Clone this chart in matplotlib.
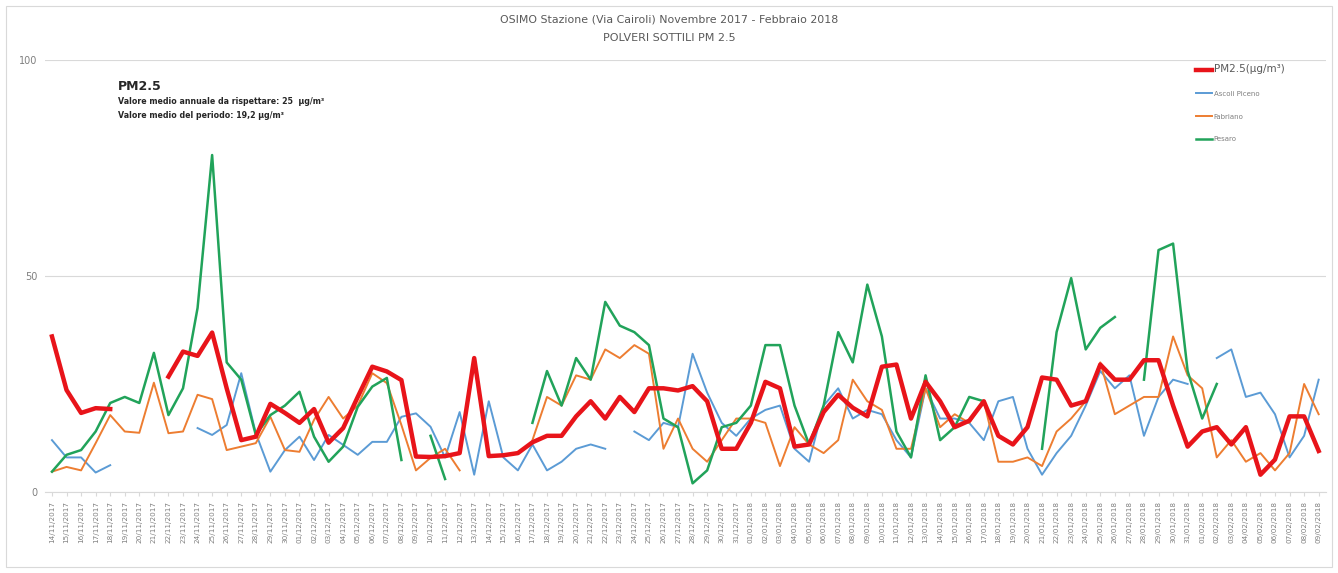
import numpy as np
import pandas as pd
import matplotlib
matplotlib.use("Agg")
import matplotlib.pyplot as plt

nan = np.nan
dates = pd.date_range("2017-11-14", periods=88, freq="D")
tick_labels = [d.strftime("%d/%m/%Y") for d in dates]

pm25 = [36, 23.6, 18.3, 19.4, 19.2, nan, nan, nan, 26.7, 32.5, 31.5, 36.9, 24, 12, 12.8, 20.4, 18.3, 16, 19.2, 11.4,
        14.8, 22, 29, 27.9, 25.9, 8.2, 8.1, 8.3, 9, 31, 8.3, 8.5, 9, 11.5, 13, 13, 17.5, 21, 17, 22,
        18.5, 24, 24, 23.5, 24.5, 21, 10, 10, 16, 25.5, 24, 10.5, 11, 18.5, 22.5, 19.5, 17.5, 29, 29.5, 17,
        25.5, 21, 15, 16.5, 21, 13, 11, 15, 26.5, 26, 20, 21, 29.5, 26, 26, 30.5, 30.5, 20, 10.5, 14,
        15, 11, 15, 4, 7.5, 17.5, 17.5, 9.5]
ascoli = [12, 8, 8, 4.5, 6.2, nan, nan, nan, nan, nan, 14.8, 13.2, 15.5, 27.5, 13.6, 4.7, 9.7, 12.8, 7.4, 13.2,
          10.9, 8.6, 11.6, 11.6, 17.4, 18.2, 15.1, 8, 18.5, 4, 21, 8, 5, 11, 5, 7, 10, 11, 10, nan,
          14, 12, 16, 15, 32, 23, 16, 13, 17, 19, 20, 10, 7, 20, 24, 17, 19, 18, 12, 8,
          24, 17, 17, 16, 12, 21, 22, 10, 4, 9, 13, 20, 28, 24, 27, 13, 22, 26, 25, nan,
          31, 33, 22, 23, 18, 8, 13, 26]
fabriano = [4.7, 5.8, 5, 11.3, 17.8, 14, 13.7, 25.3, 13.6, 14, 22.5, 21.5, 9.7, 10.5, 11.3, 17.4, 9.7, 9.3, 16.7, 22,
            17, 20, 27.5, 25.2, 15.5, 5, 7.9, 10, 5, nan, nan, nan, nan, 12, 22, 20, 27, 26, 33, 31,
            34, 32, 10, 17, 10, 7, 12, 17, 17, 16, 6, 15, 11, 9, 12, 26, 21, 19, 10, 10,
            24, 15, 18, 16, 21, 7, 7, 8, 6, 14, 17, 21, 30, 18, 20, 22, 22, 36, 27, 24,
            8, 12, 7, 9, 5, 9, 25, 18]
pesaro = [4.7, 8.6, 9.7, 14, 20.6, 22, 20.6, 32.2, 17.8, 24, 42.6, 78, 30, 26, 13.2, 17.8, 20, 23.2, 12.8, 7,
          10.5, 19.7, 24.4, 26.4, 7.4, nan, 13, 3, nan, nan, nan, nan, nan, 16, 28, 20, 31, 26, 44, 38.5,
          37, 34, 17, 15, 2, 5, 15, 16, 20, 34, 34, 20, 11, 20, 37, 30, 48, 36, 14, 8,
          27, 12, 15, 22, 21, nan, nan, nan, 10, 37, 49.5, 33, 38, 40.5, nan, 26, 56, 57.5, 28, 17,
          25, nan, nan, nan, nan, nan, nan, nan]

series = [("Ascoli Piceno", ascoli, "#5b9bd5", 1.4),
          ("Fabriano", fabriano, "#ed7d31", 1.4),
          ("Pesaro", pesaro, "#21a35a", 1.8)]

fig = plt.figure(figsize=(13.38, 5.73), dpi=100)
ax = fig.add_axes([0.0334, 0.1414, 0.9576, 0.7539])
x = np.arange(len(dates))
for name, vals, col, lw in series:
    ax.plot(x, vals, color=col, lw=lw, label=name, zorder=2)
ax.plot(x, pm25, color="#e8141a", lw=3.2, label="PM2.5(µg/m³)", zorder=3)

ax.set_xlim(-0.5, len(dates) - 0.5)
ax.set_ylim(0, 100)
ax.set_yticks([0, 50, 100])
ax.tick_params(axis="y", length=0, labelsize=7, colors="#7f7f7f", pad=5)
ax.set_xticks(x)
ax.set_xticklabels(tick_labels, rotation=90, fontsize=5.2, color="#7f7f7f")
ax.tick_params(axis="x", length=3, color="#d9d9d9")
ax.grid(axis="y", color="#d9d9d9", lw=0.8)
for s in ["top", "right", "left"]:
    ax.spines[s].set_visible(False)
ax.spines["bottom"].set_color("#d9d9d9")
ax.set_axisbelow(True)

fig.text(0.5, 1 - 20 / 573, "OSIMO Stazione (Via Cairoli) Novembre 2017 - Febbraio 2018",
         ha="center", va="center", fontsize=7.9, color="#595959")
fig.text(0.5, 1 - 38 / 573, "POLVERI SOTTILI PM 2.5", ha="center", va="center",
         fontsize=8, color="#595959")

fig.text(118 / 1338, 1 - 87 / 573, "PM2.5", fontsize=9, fontweight="bold", color="#262626", va="center")
fig.text(118 / 1338, 1 - 102 / 573, "Valore medio annuale da rispettare: 25  µg/m³",
         fontsize=5.7, fontweight="bold", color="#262626", va="center")
fig.text(118 / 1338, 1 - 115 / 573, "Valore medio del periodo: 19,2 µg/m³",
         fontsize=5.7, fontweight="bold", color="#262626", va="center")

handles, labels = ax.get_legend_handles_labels()
order = [3, 0, 1, 2]
leg = fig.legend([handles[i] for i in order], [labels[i] for i in order],
                 loc="upper left", bbox_to_anchor=(1190 / 1338, 1 - 58 / 573),
                 frameon=False, fontsize=5, labelspacing=2.4, handlelength=2.2,
                 handletextpad=0.3, labelcolor="#7f7f7f")
leg.get_texts()[0].set_fontsize(7.5)
leg.get_texts()[0].set_color("#595959")

fig.patches.append(plt.Rectangle((6 / 1338, 6 / 573), 1 - 12 / 1338, 1 - 12 / 573,
                                 transform=fig.transFigure, fill=False, ec="#d9d9d9", lw=0.8))
fig.savefig("out.png", dpi=100)
